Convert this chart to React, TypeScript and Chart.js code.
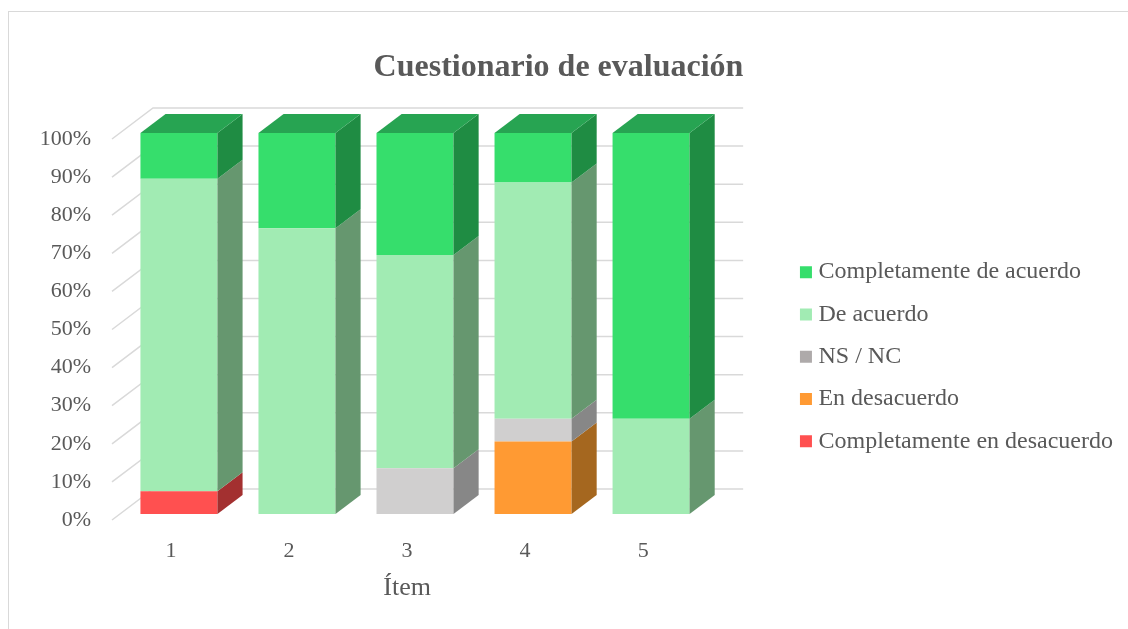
import { useEffect, useRef } from 'react';
import { Chart, registerables } from 'chart.js';

Chart.register(...registerables);

const FONT = "'Liberation Serif', 'Times New Roman', serif";
const TEXT_COLOR = '#595959';

const ITEMS = ['1', '2', '3', '4', '5'];
const SERIES_NAMES = [
  'Completamente en desacuerdo',
  'En desacuerdo',
  'NS / NC',
  'De acuerdo',
  'Completamente de acuerdo',
];
const COMPLETAMENTE_EN_DESACUERDO = [6, 0, 0, 0, 0];
const EN_DESACUERDO = [0, 0, 0, 19, 0];
const NS_NC = [0, 0, 12, 6, 0];
const DE_ACUERDO = [82, 75, 56, 62, 25];
const COMPLETAMENTE_DE_ACUERDO = [12, 25, 32, 13, 75];
const SERIES_VALUES = [COMPLETAMENTE_EN_DESACUERDO, EN_DESACUERDO, NS_NC, DE_ACUERDO, COMPLETAMENTE_DE_ACUERDO];

const Y_MIN = 0;
const Y_MAX = 100;
const Y_STEP = 10;

const FRONT_COLORS = ['#FF5050', '#FF9A33', '#D0CFCF', '#A1EBB3', '#36DE6C'];
const SIDE_COLORS = ['#A33030', '#A5671F', '#878787', '#66976F', '#1F8C43'];
const TOP_COLORS = ['#C94040', '#CC7A28', '#A6A6A6', '#82BC8F', '#27A452'];
const LEGEND_COLORS = ['#FF5050', '#FF9A33', '#AEAAAA', '#A1EBB3', '#36DE6C'];

// 3D geometry (depth of floor and where bars sit in depth)
const FLOOR_DX = 41;
const FLOOR_DY = -31;
const BAR_FRONT = 6 / 31;
const BAR_BACK = 25 / 31;

const threeDPlugin = {
  id: 'threeD',
  beforeDatasetsDraw(chart: any) {
    const { ctx, chartArea: a } = chart;
    const y = chart.scales.y;
    ctx.save();
    ctx.strokeStyle = '#d9d9d9';
    ctx.lineWidth = 1.5;
    for (const t of y.ticks) {
      const py = y.getPixelForValue(t.value);
      ctx.beginPath();
      ctx.moveTo(a.left, py);
      ctx.lineTo(a.left + FLOOR_DX, py + FLOOR_DY);
      ctx.lineTo(a.right + FLOOR_DX, py + FLOOR_DY);
      ctx.stroke();
    }
    ctx.restore();
    ctx.save();
    ctx.translate(FLOOR_DX * BAR_FRONT, FLOOR_DY * BAR_FRONT);
  },
  afterDatasetsDraw(chart: any) {
    const { ctx } = chart;
    const ddx = FLOOR_DX * (BAR_BACK - BAR_FRONT);
    const ddy = FLOOR_DY * (BAR_BACK - BAR_FRONT);
    const n = chart.data.labels.length;
    const topIdx: number[] = new Array(n).fill(-1);
    chart.data.datasets.forEach((ds: any, i: number) => {
      const meta = chart.getDatasetMeta(i);
      if (meta.hidden) return;
      meta.data.forEach((bar: any, j: number) => {
        const v = ds.data[j];
        if (!v) return;
        topIdx[j] = i;
        const { x, y, base, width } = bar.getProps(['x', 'y', 'base', 'width'], true);
        const xr = x + width / 2;
        const t = Math.min(y, base);
        const b = Math.max(y, base);
        ctx.fillStyle = SIDE_COLORS[i];
        ctx.beginPath();
        ctx.moveTo(xr, t);
        ctx.lineTo(xr + ddx, t + ddy);
        ctx.lineTo(xr + ddx, b + ddy);
        ctx.lineTo(xr, b);
        ctx.closePath();
        ctx.fill();
      });
    });
    topIdx.forEach((i, j) => {
      if (i < 0) return;
      const bar = chart.getDatasetMeta(i).data[j];
      const { x, y, base, width } = bar.getProps(['x', 'y', 'base', 'width'], true);
      const xl = x - width / 2;
      const xr = x + width / 2;
      const t = Math.min(y, base);
      ctx.fillStyle = TOP_COLORS[i];
      ctx.beginPath();
      ctx.moveTo(xl, t);
      ctx.lineTo(xl + ddx, t + ddy);
      ctx.lineTo(xr + ddx, t + ddy);
      ctx.lineTo(xr, t);
      ctx.closePath();
      ctx.fill();
    });
    ctx.restore();
  },
};

export default function App() {
  const ref = useRef<HTMLCanvasElement>(null);

  useEffect(() => {
    Chart.defaults.font.family = FONT;
    Chart.defaults.color = TEXT_COLOR;
    const chart = new Chart(ref.current as HTMLCanvasElement, {
      type: 'bar',
      data: {
        labels: ITEMS,
        datasets: SERIES_NAMES.map((name, i) => ({
          label: name,
          data: SERIES_VALUES[i],
          backgroundColor: FRONT_COLORS[i],
          borderWidth: 0,
          yAxisID: 'y',
          xAxisID: 'x',
          categoryPercentage: 1,
          barPercentage: 0.6525,
          clip: false as any,
        })),
      },
      options: {
        responsive: false,
        animation: false,
        events: [],
        layout: { padding: { left: -15, right: 5, top: 0, bottom: 17 } },
        plugins: {
          title: {
            display: true,
            text: 'Cuestionario de evaluación',
            color: TEXT_COLOR,
            font: { size: 32, weight: 'bold', family: FONT },
            padding: { top: 36.8, bottom: 51.8 },
          },
          legend: {
            position: 'right',
            fullSize: false,
            maxWidth: 420,
            reverse: true,
            title: { display: true, text: '', font: { size: 10 }, padding: { top: 42.5, bottom: 0 } },
            labels: {
              usePointStyle: true,
              pointStyle: 'rect',
              boxWidth: 1,
              boxHeight: 12,
              padding: 18.3,
              color: TEXT_COLOR,
              font: { size: 24, family: FONT },
              generateLabels: (c: any) =>
                (Chart.defaults.plugins.legend.labels.generateLabels as any)(c).map((l: any) => ({
                  ...l,
                  fillStyle: LEGEND_COLORS[l.datasetIndex],
                  strokeStyle: LEGEND_COLORS[l.datasetIndex],
                  lineWidth: 0,
                  pointStyle: 'rect',
                })),
            },
          },
          tooltip: { enabled: false },
        },
        scales: {
          x: {
            stacked: true,
            grid: { display: false, drawTicks: false },
            border: { display: false },
            ticks: { padding: 18, color: TEXT_COLOR, font: { size: 22, family: FONT } },
            title: {
              display: true,
              text: 'Ítem',
              color: TEXT_COLOR,
              font: { size: 26, family: FONT },
              padding: { top: 0, bottom: 8 },
            },
            afterFit: (s: any) => {
              s.height = 92;
            },
          },
          y: {
            stacked: true,
            min: Y_MIN,
            max: Y_MAX,
            ticks: {
              stepSize: Y_STEP,
              padding: 21,
              color: TEXT_COLOR,
              font: { size: 22, family: FONT },
              callback: (v: any) => v + '%',
            },
            grid: { display: false, drawTicks: false },
            border: { display: false },
            afterFit: (s: any) => {
              s.width = 118;
            },
          },
          y2: {
            type: 'linear',
            position: 'right',
            display: true,
            grid: { display: false, drawTicks: false },
            border: { display: false },
            ticks: { display: false },
            afterFit: (s: any) => {
              s.width = 85;
            },
          },
        },
      } as any,
      plugins: [threeDPlugin],
    });
    return () => chart.destroy();
  }, []);

  return (
    <div
      style={{
        position: 'fixed',
        left: 8,
        top: 11,
        width: 1120,
        height: 618,
        boxSizing: 'border-box',
        borderLeft: '1px solid #d9d9d9',
        borderTop: '1px solid #d9d9d9',
        background: '#fff',
      }}
    >
      <canvas ref={ref} width={1119} height={617} style={{ display: 'block', width: 1119, height: 617 }} />
    </div>
  );
}
